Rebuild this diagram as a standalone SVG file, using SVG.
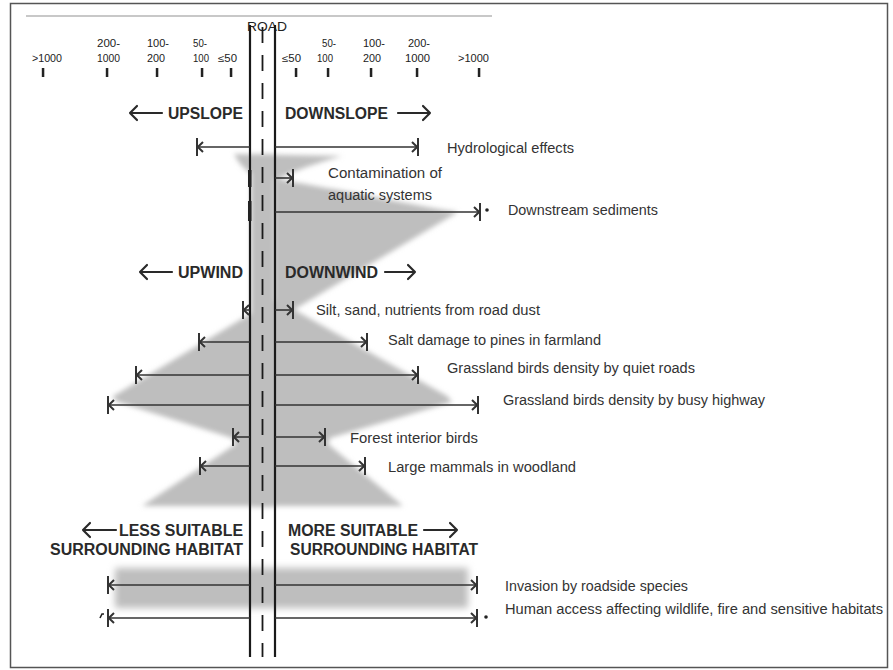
<svg xmlns="http://www.w3.org/2000/svg" width="893" height="670" viewBox="0 0 893 670">
<defs>
<style>
.lbl{font-family:"Liberation Sans",Arial,sans-serif;font-size:14px;fill:#333}
.hd{font-family:"Liberation Sans",Arial,sans-serif;font-size:16px;font-weight:bold;fill:#2a2a2a}
.sc{font-family:"Liberation Sans",Arial,sans-serif;font-size:10px;fill:#222}
.ln{stroke:#333;stroke-width:1.6;fill:none}
.ha{stroke:#2a2a2a;stroke-width:2.2;fill:none;stroke-linecap:round;stroke-linejoin:round}
.road{stroke:#1a1a1a;stroke-width:2.2}
.sh{fill:#bebebe}
</style>
<filter id="blur" x="-20%" y="-20%" width="140%" height="140%"><feGaussianBlur stdDeviation="2.5"/></filter>
<filter id="blur2" x="-20%" y="-40%" width="140%" height="180%"><feGaussianBlur stdDeviation="3.5"/></filter>
<marker id="tip" markerUnits="userSpaceOnUse" orient="auto-start-reverse" viewBox="-10 -12 14 24" refX="0" refY="0" markerWidth="14" markerHeight="24">
<path d="M-6,-5 L-0.8,0 L-6,5" stroke="#333" stroke-width="2" fill="none"/>
<line x1="0" y1="-9" x2="0" y2="9" stroke="#333" stroke-width="2"/>
</marker>
</defs>
<rect x="0" y="0" width="893" height="670" fill="#fff"/>
<rect id="frame" x="10.5" y="3.5" width="877" height="664" fill="#fff" stroke="#555" stroke-width="1.5"/>
<line x1="26" y1="16" x2="492" y2="16" stroke="#c8c8c8" stroke-width="2"/>

<g id="shading">
<g filter="url(#blur)">
<path class="sh" d="M234,154 L342,156 Q305,166 277,179 L250,173 Q240,166 234,154 Z"/>
<path class="sh" d="M275,178 C300,184 330,188 360,194 C400,202 430,208 458,212 L285,315 L275,315 Z"/>
<path class="sh" d="M250,314 L112,397 L118,402 L232,438 L236,444 L142,506 L403,506 L328,444 L330,438 L452,402 L447,396 L277,300 Z"/>
<rect class="sh" x="251" y="154" width="23" height="353"/>
</g>
<rect class="sh" x="115" y="568" width="353" height="40" filter="url(#blur2)"/>
</g>

<g id="scale">
<text class="sc" x="32" y="62" textLength="30" lengthAdjust="spacingAndGlyphs">&gt;1000</text>
<text class="sc" x="97" y="47" textLength="23" lengthAdjust="spacingAndGlyphs">200-</text>
<text class="sc" x="97" y="62" textLength="23" lengthAdjust="spacingAndGlyphs">1000</text>
<text class="sc" x="147" y="47" textLength="22" lengthAdjust="spacingAndGlyphs">100-</text>
<text class="sc" x="147" y="62" textLength="18" lengthAdjust="spacingAndGlyphs">200</text>
<text class="sc" x="193" y="47" textLength="14" lengthAdjust="spacingAndGlyphs">50-</text>
<text class="sc" x="193" y="62" textLength="16" lengthAdjust="spacingAndGlyphs">100</text>
<text class="sc" x="218" y="62" textLength="19" lengthAdjust="spacingAndGlyphs">≤50</text>
<text class="sc" x="282" y="62" textLength="19" lengthAdjust="spacingAndGlyphs">≤50</text>
<text class="sc" x="322" y="47" textLength="14" lengthAdjust="spacingAndGlyphs">50-</text>
<text class="sc" x="317" y="62" textLength="16" lengthAdjust="spacingAndGlyphs">100</text>
<text class="sc" x="363" y="47" textLength="22" lengthAdjust="spacingAndGlyphs">100-</text>
<text class="sc" x="363" y="62" textLength="18" lengthAdjust="spacingAndGlyphs">200</text>
<text class="sc" x="408" y="47" textLength="22" lengthAdjust="spacingAndGlyphs">200-</text>
<text class="sc" x="405" y="62" textLength="25" lengthAdjust="spacingAndGlyphs">1000</text>
<text class="sc" x="458" y="62" textLength="31" lengthAdjust="spacingAndGlyphs">&gt;1000</text>
<g fill="#222">
<rect x="41.8" y="68" width="2.5" height="9"/>
<rect x="105.8" y="68" width="2.5" height="9"/>
<rect x="155.8" y="68" width="2.5" height="9"/>
<rect x="200.8" y="68" width="2.5" height="9"/>
<rect x="229.8" y="68" width="2.5" height="9"/>
<rect x="294.8" y="68" width="2.5" height="9"/>
<rect x="326.8" y="68" width="2.5" height="9"/>
<rect x="369.8" y="68" width="2.5" height="9"/>
<rect x="415.8" y="68" width="2.5" height="9"/>
<rect x="477.8" y="68" width="2.5" height="9"/>
</g>
</g>

<g id="road">
<text x="267" y="31" font-family="Liberation Sans, Arial, sans-serif" font-size="13" fill="#222" text-anchor="middle" textLength="40" lengthAdjust="spacingAndGlyphs">ROAD</text>
<line class="road" x1="250" y1="25" x2="250" y2="657"/>
<line class="road" x1="275" y1="25" x2="275" y2="657"/>
<line x1="262.5" y1="27" x2="262.5" y2="657" stroke="#1a1a1a" stroke-width="1.8" stroke-dasharray="16 12"/>
</g>

<g id="headings">
<g id="upslope"><path class="ha" d="M130,113 H162 M137,106 L130,113 L137,120"/><text class="hd" x="168" y="119" textLength="75" lengthAdjust="spacingAndGlyphs">UPSLOPE</text></g>
<g id="downslope"><text class="hd" x="285" y="119" textLength="103" lengthAdjust="spacingAndGlyphs">DOWNSLOPE</text><path class="ha" d="M398,113 H430 M423,106 L430,113 L423,120"/></g>
<g id="upwind"><path class="ha" d="M140,272 H172 M147,265 L140,272 L147,279"/><text class="hd" x="178" y="277.5" textLength="65" lengthAdjust="spacingAndGlyphs">UPWIND</text></g>
<g id="downwind"><text class="hd" x="285" y="277.5" textLength="93" lengthAdjust="spacingAndGlyphs">DOWNWIND</text><path class="ha" d="M385,272 H415 M408,265 L415,272 L408,279"/></g>
<g id="less"><path class="ha" d="M83,530 H116 M90,523 L83,530 L90,537"/><text class="hd" x="119" y="536" textLength="124" lengthAdjust="spacingAndGlyphs">LESS SUITABLE</text><text class="hd" x="50" y="555" textLength="193" lengthAdjust="spacingAndGlyphs">SURROUNDING HABITAT</text></g>
<g id="more"><text class="hd" x="288" y="536" textLength="130" lengthAdjust="spacingAndGlyphs">MORE SUITABLE</text><path class="ha" d="M424,530 H457 M450,523 L457,530 L450,537"/><text class="hd" x="290" y="555" textLength="188" lengthAdjust="spacingAndGlyphs">SURROUNDING HABITAT</text></g>
</g>

<g id="connectors">
<line class="ln" x1="197" y1="147" x2="250" y2="147" marker-start="url(#tip)"/>
<line class="ln" x1="275" y1="147" x2="418" y2="147" marker-end="url(#tip)"/>
<rect x="248" y="170" width="3.5" height="17" fill="#222"/>
<line class="ln" x1="275" y1="178" x2="293" y2="178" marker-end="url(#tip)"/>
<rect x="248" y="201" width="3.5" height="20" fill="#222"/>
<line class="ln" x1="275" y1="212" x2="480" y2="212" marker-end="url(#tip)"/>
<circle cx="487" cy="210" r="1.8" fill="#222"/>
<line class="ln" x1="243" y1="310" x2="250" y2="310" marker-start="url(#tip)"/>
<line class="ln" x1="275" y1="310" x2="293" y2="310" marker-end="url(#tip)"/>
<line class="ln" x1="199" y1="342" x2="250" y2="342" marker-start="url(#tip)"/>
<line class="ln" x1="275" y1="342" x2="367" y2="342" marker-end="url(#tip)"/>
<line class="ln" x1="136" y1="375" x2="250" y2="375" marker-start="url(#tip)"/>
<line class="ln" x1="275" y1="375" x2="418" y2="375" marker-end="url(#tip)"/>
<line class="ln" x1="108" y1="405" x2="250" y2="405" marker-start="url(#tip)"/>
<line class="ln" x1="275" y1="405" x2="478" y2="405" marker-end="url(#tip)"/>
<line class="ln" x1="233" y1="437" x2="250" y2="437" marker-start="url(#tip)"/>
<line class="ln" x1="275" y1="437" x2="325" y2="437" marker-end="url(#tip)"/>
<line class="ln" x1="200" y1="466" x2="250" y2="466" marker-start="url(#tip)"/>
<line class="ln" x1="275" y1="466" x2="365" y2="466" marker-end="url(#tip)"/>
<line class="ln" x1="108" y1="585" x2="250" y2="585" marker-start="url(#tip)"/>
<line class="ln" x1="275" y1="585" x2="477" y2="585" marker-end="url(#tip)"/>
<line class="ln" x1="108" y1="618" x2="250" y2="618" marker-start="url(#tip)"/>
<line class="ln" x1="275" y1="618" x2="477" y2="618" marker-end="url(#tip)"/>
<path d="M100,618 L102,614 L104,614" stroke="#222" stroke-width="1.6" fill="none"/>
<circle cx="486" cy="617" r="1.8" fill="#222"/>
</g>

<g id="labels">
<text id="l-hydro" class="lbl" x="447" y="153" textLength="127" lengthAdjust="spacingAndGlyphs">Hydrological effects</text>
<text id="l-contam1" class="lbl" x="328" y="178" textLength="114" lengthAdjust="spacingAndGlyphs">Contamination of</text>
<text id="l-contam2" class="lbl" x="328" y="200" textLength="104" lengthAdjust="spacingAndGlyphs">aquatic systems</text>
<text id="l-down" class="lbl" x="508" y="215" textLength="150" lengthAdjust="spacingAndGlyphs">Downstream sediments</text>
<text id="l-silt" class="lbl" x="316" y="315" textLength="224" lengthAdjust="spacingAndGlyphs">Silt, sand, nutrients from road dust</text>
<text id="l-salt" class="lbl" x="388" y="345" textLength="213" lengthAdjust="spacingAndGlyphs">Salt damage to pines in farmland</text>
<text id="l-quiet" class="lbl" x="447" y="373" textLength="248" lengthAdjust="spacingAndGlyphs">Grassland birds density by quiet roads</text>
<text id="l-busy" class="lbl" x="503" y="405" textLength="262" lengthAdjust="spacingAndGlyphs">Grassland birds density by busy highway</text>
<text id="l-forest" class="lbl" x="350" y="443" textLength="128" lengthAdjust="spacingAndGlyphs">Forest interior birds</text>
<text id="l-mammals" class="lbl" x="388" y="472" textLength="188" lengthAdjust="spacingAndGlyphs">Large mammals in woodland</text>
<text id="l-invasion" class="lbl" x="505" y="591" textLength="183" lengthAdjust="spacingAndGlyphs">Invasion by roadside species</text>
<text id="l-human" class="lbl" x="505" y="614" textLength="378" lengthAdjust="spacingAndGlyphs">Human access affecting wildlife, fire and sensitive habitats</text>
</g>
</svg>
